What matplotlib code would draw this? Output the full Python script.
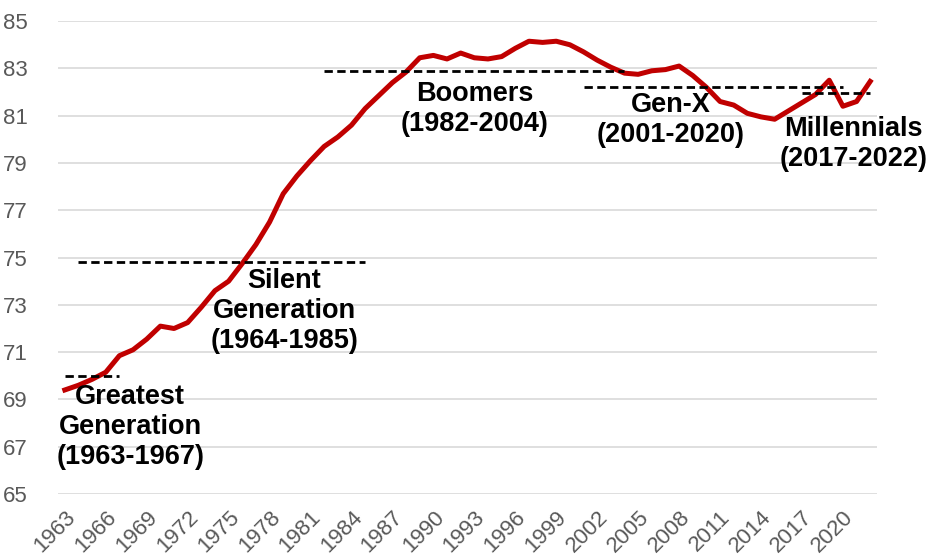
import matplotlib.pyplot as plt
import numpy as np

plt.rcParams['font.family'] = ['Liberation Sans', 'DejaVu Sans']

# Life-expectancy style series, 1963-2022
years = list(range(1963, 2023))
values = [69.4, 69.6, 69.85, 70.15, 70.85, 71.1, 71.55, 72.1, 72.0, 72.25,
          72.9, 73.6, 74.0, 74.75, 75.55, 76.5, 77.7, 78.45, 79.1, 79.7,
          80.1, 80.6, 81.3, 81.85, 82.4, 82.85, 83.45, 83.55, 83.4, 83.65,
          83.45, 83.4, 83.5, 83.85, 84.15, 84.1, 84.15, 84.0, 83.7, 83.35,
          83.05, 82.8, 82.75, 82.9, 82.95, 83.1, 82.7, 82.2, 81.6, 81.45,
          81.1, 80.95, 80.85, 81.2, 81.55, 81.9, 82.5, 81.4, 81.6, 82.45]

# generation averages (dashed lines)
gen_names = ['Greatest\nGeneration\n(1963-1967)', 'Silent\nGeneration\n(1964-1985)',
             'Boomers\n(1982-2004)', 'Gen-X\n(2001-2020)', 'Millennials\n(2017-2022)']
gen_start = [1963, 1964, 1982, 2001, 2017]
gen_end = [1967, 1985, 2004, 2020, 2022]
gen_level = [70.0, 74.8, 82.9, 82.2, 81.95]

# label positions (x index, y value)
label_x = [4.8, 16.1, 30.0, 44.4, 57.8]
label_y = [67.85, 72.75, 81.3, 80.8, 79.8]

fig = plt.figure(figsize=(9.35, 5.56), dpi=100)
ax = fig.add_axes([0.062, 0.1115, 0.876, 0.8505])

x = np.arange(len(years))
ax.plot(x, values, color='#c00000', linewidth=3.6, solid_joinstyle='round', zorder=3)

for name, s, e, lvl, lx, ly in zip(gen_names, gen_start, gen_end, gen_level, label_x, label_y):
    ax.hlines(lvl, years.index(s), years.index(e), colors='black',
              linewidth=2, linestyles=(0, (3, 1.6)), zorder=4)
    ax.text(lx, ly, name, ha='center', va='center', fontsize=19.5, fontweight='bold',
            linespacing=1.2, zorder=5)

ax.set_xlim(-0.5, len(years) - 0.5)
ax.set_ylim(65, 85)
ax.set_yticks(np.arange(65, 86, 2))
ax.set_xticks(x[::3])
ax.set_xticklabels([str(y) for y in years[::3]], rotation=45, ha='right',
                   rotation_mode='anchor', fontsize=16, color='#595959')
ax.tick_params(axis='y', labelsize=16, labelcolor='#595959', length=0, pad=22)
ax.tick_params(axis='x', length=0, pad=9)
ax.grid(axis='y', color='#d9d9d9', linewidth=1.2)
ax.set_axisbelow(True)
for sp in ax.spines.values():
    sp.set_visible(False)

plt.savefig('out.png', dpi=100)
